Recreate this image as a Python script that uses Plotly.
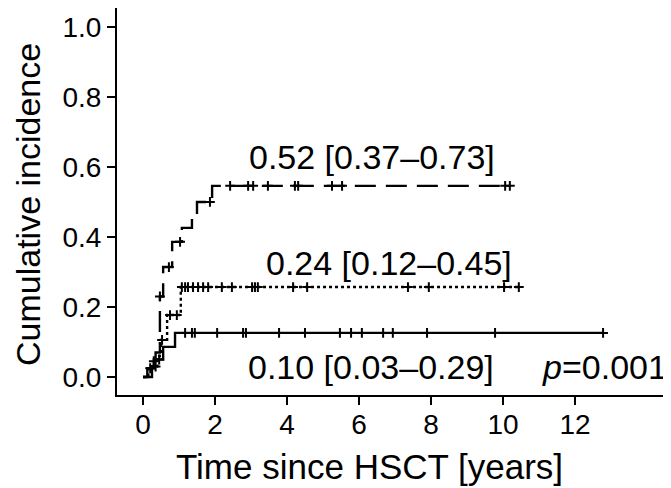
import numpy as np
import plotly.graph_objects as go

# ---- data ----
# Group A (dashed): step times (years) and cumulative incidence after each step
a_times = [0, 0.25, 0.35, 0.47, 0.56, 0.81, 1.08, 1.36, 1.50, 1.92]
a_levels = [0, 0.045, 0.07, 0.23, 0.314, 0.386, 0.426, 0.469, 0.50, 0.546]
a_end = 10.19
a_censor = [0.30, 0.47, 0.72, 1.03, 1.86, 2.42, 2.92, 3.06, 3.47, 4.22, 4.31,
            5.25, 5.53, 10.06, 10.19]

# Group B (dotted)
b_times = [0, 0.15, 0.40, 0.50, 0.67, 1.05]
b_levels = [0, 0.03, 0.06, 0.106, 0.177, 0.257]
b_end = 10.47
b_censor = [0.35, 0.53, 0.75, 0.94, 1.08, 1.17, 1.25, 1.39, 1.53, 1.67, 1.81,
            2.19, 2.47, 3.03, 3.11, 3.19, 4.17, 4.56, 7.36, 7.94, 10.03, 10.44]

# Group C (solid)
c_times = [0, 0.12, 0.30, 0.56, 0.89]
c_levels = [0, 0.025, 0.05, 0.086, 0.126]
c_end = 12.78
c_censor = [0.20, 0.45, 1.17, 1.36, 1.44, 2.06, 2.78, 2.86, 3.78, 4.50, 5.47,
            5.78, 6.08, 6.67, 6.94, 7.89, 9.78, 12.78]

labels = ["0.52 [0.37–0.73]", "0.24 [0.12–0.45]", "0.10 [0.03–0.29]"]
p_label = "<i>p</i>=0.001"

x_ticks = [0, 2, 4, 6, 8, 10, 12]
y_ticks = [0.0, 0.2, 0.4, 0.6, 0.8, 1.0]
x_title = "Time since HSCT [years]"
y_title = "Cumulative incidence"

FONT = "Liberation Sans, Arial, Helvetica, sans-serif"

fig = go.Figure()


def add_curve(times, levels, end, censor, dash):
    xs = list(times) + [end]
    ys = list(levels) + [levels[-1]]
    fig.add_trace(go.Scatter(x=xs, y=ys, mode="lines", line_shape="hv",
                             line=dict(color="black", width=2.4, dash=dash),
                             hoverinfo="skip", showlegend=False))
    idx = np.searchsorted(np.array(times), np.array(censor), side="right") - 1
    cy = [levels[i] for i in idx]
    fig.add_trace(go.Scatter(x=censor, y=cy, mode="markers",
                             marker=dict(symbol="cross-thin", size=7,
                                         line=dict(color="black", width=2)),
                             hoverinfo="skip", showlegend=False))


add_curve(a_times, a_levels, a_end, a_censor, "21px,10px")
add_curve(b_times, b_levels, b_end, b_censor, "3px,3px")
add_curve(c_times, c_levels, c_end, c_censor, "solid")

ann_font = dict(family=FONT, size=34, color="black")
fig.add_annotation(x=6.35, y=0.629, text=labels[0], showarrow=False,
                   xanchor="center", yanchor="middle", font=ann_font)
fig.add_annotation(x=6.83, y=0.326, text=labels[1], showarrow=False,
                   xanchor="center", yanchor="middle", font=ann_font)
fig.add_annotation(x=6.32, y=0.029, text=labels[2], showarrow=False,
                   xanchor="center", yanchor="middle", font=ann_font)
fig.add_annotation(xref="paper", x=1.0, y=0.029, text=p_label,
                   showarrow=False, xanchor="right", yanchor="middle",
                   xshift=-2, font=ann_font)

# plot area in figure pixels: x 109..663, y 0..387 (figure 663x480)
fig.add_annotation(xref="paper", yref="paper", x=(361.5 - 109) / 554,
                   y=(387 - 459) / 387,
                   text=x_title, showarrow=False, xanchor="center",
                   yanchor="middle",
                   font=dict(family=FONT, size=35, color="black"))
fig.add_annotation(xref="paper", yref="paper", x=(20 - 109) / 554,
                   y=(387 - 197) / 387,
                   text=y_title, showarrow=False, textangle=-90,
                   xanchor="center", yanchor="middle",
                   font=dict(family=FONT, size=34, color="black"))

axis_common = dict(showline=True, linecolor="black", linewidth=2,
                   ticks="outside", ticklen=8, tickwidth=2, tickcolor="black",
                   showgrid=False, zeroline=False, automargin=False)

fig.update_layout(
    width=663, height=480,
    margin=dict(l=109, r=0, t=0, b=93, autoexpand=False),
    paper_bgcolor="white", plot_bgcolor="white",
    font=dict(family=FONT, size=28, color="black"),
    xaxis=dict(range=[-0.722, 14.667], tickvals=x_ticks,
               ticktext=[str(v) for v in x_ticks], ticklabelstandoff=-5,
               tickfont=dict(family=FONT, size=28, color="black"),
               **axis_common),
    yaxis=dict(range=[-0.0514, 1.054], tickvals=y_ticks,
               ticktext=[f"{v:.1f}" for v in y_ticks], ticklabelstandoff=0,
               tickfont=dict(family=FONT, size=28, color="black"),
               **axis_common),
)

fig.write_html("out.html")
